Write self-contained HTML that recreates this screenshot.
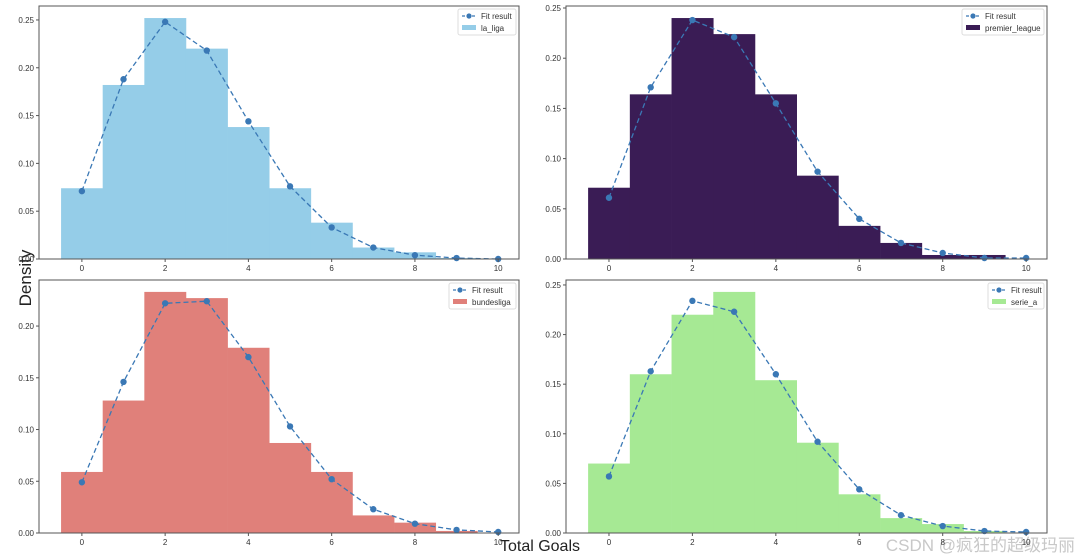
<!DOCTYPE html>
<html><head><meta charset="utf-8"><style>
html,body{margin:0;padding:0;background:#fff;}
svg{display:block;font-family:"Liberation Sans","DejaVu Sans",sans-serif;}
</style></head><body>
<svg id="chart" width="1080" height="560" viewBox="0 0 1080 560" xmlns="http://www.w3.org/2000/svg">
<text x="0" y="0" transform="translate(31,278) rotate(-90)" text-anchor="middle" font-size="17" fill="#222">Density</text>
<text x="540" y="551" text-anchor="middle" font-size="16" fill="#222">Total Goals</text>
<text x="1075" y="551" text-anchor="end" font-size="17" fill="#c8c8c8" font-family="Liberation Sans, Noto Sans CJK SC, sans-serif">CSDN @疯狂的超级玛丽</text>
</svg>
<script>
const leagues = ["la_liga","premier_league","bundesliga","serie_a"];
const histLaLiga = [0.074,0.182,0.252,0.220,0.138,0.074,0.038,0.012,0.007,0.001];
const fitLaLiga = [0.071,0.188,0.248,0.218,0.144,0.076,0.033,0.012,0.004,0.001,0.0];
const histPremier = [0.071,0.164,0.240,0.224,0.164,0.083,0.033,0.016,0.004,0.004];
const fitPremier = [0.061,0.171,0.238,0.221,0.155,0.087,0.040,0.016,0.006,0.001,0.001];
const histBundesliga = [0.059,0.128,0.233,0.227,0.179,0.087,0.059,0.017,0.010,0.002];
const fitBundesliga = [0.049,0.146,0.222,0.224,0.170,0.103,0.052,0.023,0.009,0.003,0.001];
const histSerieA = [0.070,0.160,0.220,0.243,0.154,0.091,0.039,0.015,0.009,0.002];
const fitSerieA = [0.057,0.163,0.234,0.223,0.160,0.092,0.044,0.018,0.007,0.002,0.001];
const xTicks = [0,2,4,6,8,10];
const yTickLabels = ["0.00","0.05","0.10","0.15","0.20","0.25"];

const NS="http://www.w3.org/2000/svg";
const svg=document.getElementById('chart');
function mk(tag,attrs,parent){const e=document.createElementNS(NS,tag);for(const k in attrs)e.setAttribute(k,attrs[k]);(parent||svg).appendChild(e);return e;}

const panels=[
 {name:leagues[0],hist:histLaLiga,fit:fitLaLiga,color:"#95cde8",x0:39,x1:519,y0:6,y1:259,ymax:0.2646,lw:58},
 {name:leagues[1],hist:histPremier,fit:fitPremier,color:"#3a1c55",x0:566,x1:1047,y0:6,y1:259,ymax:0.252,lw:82},
 {name:leagues[2],hist:histBundesliga,fit:fitBundesliga,color:"#e0807a",x0:39,x1:519,y0:280,y1:533,ymax:0.2445,lw:67},
 {name:leagues[3],hist:histSerieA,fit:fitSerieA,color:"#a6e994",x0:566,x1:1047,y0:280,y1:533,ymax:0.255,lw:56}
];
const xmin=-1.03,xmax=10.5;
panels.forEach((p,pi)=>{
 const g=mk('g',{});
 
 
 const X=v=>p.x0+(v-xmin)/(xmax-xmin)*(p.x1-p.x0);
 const Y=v=>p.y1-v/p.ymax*(p.y1-p.y0);
 p.hist.forEach((v,i)=>{
  const r=mk('rect',{x:X(i-0.5),y:Y(v),width:X(i+0.5)-X(i-0.5)+0.3,height:p.y1-Y(v),fill:p.color},g);
  
  
 });
 const pts=p.fit.map((v,i)=>X(i)+','+Y(v)).join(' ');
 const line=mk('polyline',{points:pts,fill:'none',stroke:'#3a78b5','stroke-width':1.3,'stroke-dasharray':'5,3'},g);
 
 
 p.fit.forEach((v,i)=>{
  const c=mk('circle',{cx:X(i),cy:Y(v),r:3.2,fill:'#3a78b5'},g);
  
  
 });
 const fr=mk('rect',{x:p.x0,y:p.y0,width:p.x1-p.x0,height:p.y1-p.y0,fill:'none',stroke:'#555','stroke-width':1},g);
 
 
 xTicks.forEach(t=>{
  mk('line',{x1:X(t),x2:X(t),y1:p.y1,y2:p.y1+3,stroke:'#555'},g);
  const tx=mk('text',{x:X(t),y:p.y1+12,'text-anchor':'middle','font-size':8,fill:'#333'},g);
  tx.textContent=t;
  
  
 });
 yTickLabels.forEach(l=>{
  const v=parseFloat(l); if(v>p.ymax+0.001)return;
  mk('line',{x1:p.x0-3,x2:p.x0,y1:Y(v),y2:Y(v),stroke:'#555'},g);
  const ty=mk('text',{x:p.x0-5,y:Y(v)+3,'text-anchor':'end','font-size':8,fill:'#333'},g);
  ty.textContent=l;
  
  
 });
 // legend
 const lx=p.x1-3-p.lw, ly=p.y0+3;
 const lg=mk('g',{},g);
 
 
 mk('rect',{x:lx,y:ly,width:p.lw,height:26,fill:'#fff',stroke:'#ddd',rx:2},lg);
 mk('line',{x1:lx+4,x2:lx+18,y1:ly+7,y2:ly+7,stroke:'#3a78b5','stroke-dasharray':'3,2','stroke-width':1.2},lg);
 mk('circle',{cx:lx+11,cy:ly+7,r:2.6,fill:'#3a78b5'},lg);
 const t1=mk('text',{x:lx+23,y:ly+10,'font-size':8,fill:'#333'},lg); t1.textContent='Fit result';
 mk('rect',{x:lx+4,y:ly+16,width:14,height:5,fill:p.color},lg);
 const t2=mk('text',{x:lx+23,y:ly+22,'font-size':8,fill:'#333'},lg); t2.textContent=p.name;
});
</script>
</body></html>
